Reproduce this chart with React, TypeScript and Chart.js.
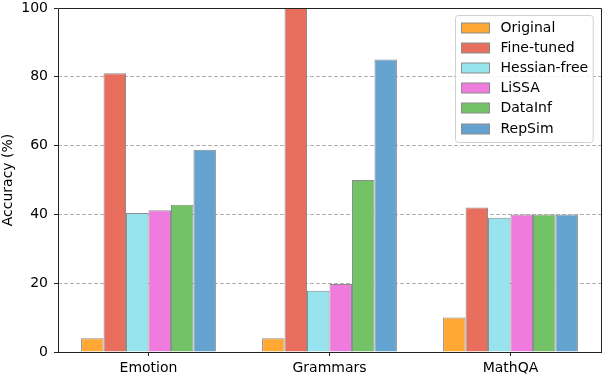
import React, { useEffect, useRef } from "react";
import { Chart, registerables } from "chart.js";

Chart.register(...registerables);

const categories = ["Emotion", "Grammars", "MathQA"];
const seriesNames = ["Original", "Fine-tuned", "Hessian-free", "LiSSA", "DataInf", "RepSim"];
const original = [4, 4, 10];
const fineTuned = [81, 100, 42];
const hessianFree = [40.4, 17.8, 39];
const lissa = [41.2, 19.8, 40];
const dataInf = [42.8, 50, 40];
const repSim = [58.8, 85, 40];
const seriesColors = ["#FFA934", "#E86F5E", "#97E4EF", "#EE7BDD", "#73C266", "#64A3CF"];
const yTicks = [0, 20, 40, 60, 80, 100];

const FONT = "'DejaVu Sans', sans-serif";

const frameAndLegend = {
  id: "frameAndLegend",
  afterDraw(chart: any) {
    const ctx = chart.ctx as CanvasRenderingContext2D;
    const a = chart.chartArea;
    ctx.save();
    ctx.setLineDash([]);
    // spines
    ctx.strokeStyle = "#222";
    ctx.lineWidth = 1;
    ctx.beginPath();
    ctx.moveTo(a.left + 0.5, a.bottom);
    ctx.lineTo(a.left + 0.5, a.top + 0.5);
    ctx.lineTo(a.right + 0.5, a.top + 0.5);
    ctx.lineTo(a.right + 0.5, a.bottom);
    ctx.stroke();

    // legend
    ctx.font = `14px ${FONT}`;
    const ds = chart.data.datasets;
    let maxW = 0;
    ds.forEach((d: any) => {
      maxW = Math.max(maxW, ctx.measureText(d.label).width);
    });
    const rowH = 20.2;
    const boxW = 6 + 28 + 11 + maxW + 5;
    const boxH = 12 + (ds.length - 1) * rowH + 14;
    const bx = Math.round(a.right - 8 - boxW) + 0.5;
    const by = Math.round(a.top + 7) + 0.5;
    const r = 3;
    ctx.globalAlpha = 0.85;
    ctx.fillStyle = "#fff";
    ctx.beginPath();
    ctx.moveTo(bx + r, by);
    ctx.arcTo(bx + boxW, by, bx + boxW, by + boxH, r);
    ctx.arcTo(bx + boxW, by + boxH, bx, by + boxH, r);
    ctx.arcTo(bx, by + boxH, bx, by, r);
    ctx.arcTo(bx, by, bx + boxW, by, r);
    ctx.closePath();
    ctx.fill();
    ctx.globalAlpha = 1;
    ctx.strokeStyle = "#d0d0d0";
    ctx.lineWidth = 1;
    ctx.stroke();

    ds.forEach((d: any, i: number) => {
      const cy = Math.round(by + 12 + i * rowH);
      ctx.fillStyle = d.backgroundColor;
      ctx.fillRect(bx + 6, cy - 5, 28, 10);
      ctx.strokeStyle = "#8c8c8c";
      ctx.lineWidth = 1;
      ctx.strokeRect(bx + 6, cy - 5, 28, 10);
      ctx.fillStyle = "#000";
      ctx.textBaseline = "middle";
      ctx.textAlign = "left";
      ctx.fillText(d.label, bx + 6 + 28 + 11, cy + 0.5);
    });
    ctx.restore();
  },
};

export default function App() {
  const ref = useRef<HTMLCanvasElement>(null);
  useEffect(() => {
    document.body.style.margin = "0";
    document.body.style.overflow = "hidden";
    const values = [original, fineTuned, hessianFree, lissa, dataInf, repSim];
    const chart = new Chart(ref.current!, {
      type: "bar",
      data: {
        labels: categories,
        datasets: seriesNames.map((name, i) => ({
          label: name,
          data: values[i],
          backgroundColor: seriesColors[i],
          borderColor: "#8c8c8c",
          borderWidth: 1,
          categoryPercentage: 0.745,
          barPercentage: 1.0,
        })),
      },
      options: {
        animation: false,
        responsive: false,
        devicePixelRatio: 1,
        layout: { padding: { left: 0, right: 3, top: 8, bottom: 0 } },
        plugins: {
          legend: { display: false },
          tooltip: { enabled: false },
        },
        scales: {
          x: {
            offset: true,
            grid: {
              offset: false,
              drawOnChartArea: false,
              drawTicks: true,
              tickLength: 4,
              tickColor: "#222",
            },
            border: { display: true, color: "#222", width: 1 },
            ticks: {
              color: "#000",
              font: { family: FONT, size: 14 },
              padding: 4,
              maxRotation: 0,
            },
            afterFit(scale: any) {
              scale.height = 24;
              scale.paddingLeft = 0;
              scale.paddingRight = 0;
            },
          },
          y: {
            min: 0,
            max: 100,
            afterBuildTicks(scale: any) {
              scale.ticks = yTicks.map((v) => ({ value: v }));
            },
            grid: {
              color: (c: any) => (c.tick && (c.tick.value === 0 || c.tick.value === 100) ? "rgba(0,0,0,0)" : "#b0b0b0"),
              drawTicks: true,
              tickLength: 4,
              tickColor: "#222",
              tickBorderDash: [],
            },
            border: { display: false, dash: [4, 2] },
            ticks: {
              color: "#000",
              font: { family: FONT, size: 14 },
              padding: 6,
            },
            title: {
              display: true,
              text: "Accuracy (%)",
              color: "#000",
              font: { family: FONT, size: 14 },
              padding: 0,
            },
            afterFit(scale: any) {
              scale.width = 58;
              scale.paddingTop = 0;
              scale.paddingBottom = 0;
            },
          },
        },
      },
      plugins: [frameAndLegend],
    });
    return () => chart.destroy();
  }, []);
  return (
    <div style={{ width: 604, height: 376 }}>
      <canvas ref={ref} width={604} height={376} style={{ display: "block" }} />
    </div>
  );
}
